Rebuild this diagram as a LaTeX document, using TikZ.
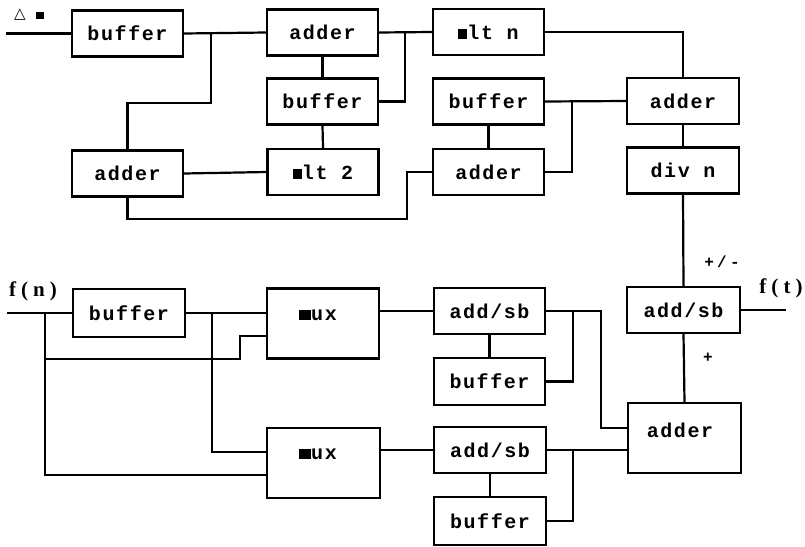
\documentclass[tikz,border=0pt]{standalone}
\usepackage{fontspec}
\newfontfamily\boxfont[LetterSpace=8]{Liberation Mono}
\newfontfamily\signfont[LetterSpace=20]{Liberation Mono}
\newfontfamily\sigfont[LetterSpace=24]{Liberation Serif}
\newfontfamily\symfont{DejaVu Sans}
\tikzset{
  wire/.style={line width=2.2pt, line cap=rect},
  blk/.style={draw, line width=2.2pt, minimum width=111pt, minimum height=46pt,
              inner sep=0pt, font=\boxfont\bfseries\fontsize{20}{22}\selectfont},
  tallblk/.style={blk, minimum height=70pt},
  lbl/.style={inner sep=0pt, font=\boxfont\bfseries\fontsize{20}{22}\selectfont},
  sig/.style={inner sep=0pt, font=\sigfont\bfseries\fontsize{21}{24}\selectfont},
  sgn/.style={inner sep=0pt, font=\signfont\bfseries\fontsize{16}{18}\selectfont}
}
\newcommand{\mblk}[1]{\rule[0pt]{#1}{10.5pt}}
\begin{document}
\begin{tikzpicture}[x=1pt, y=-1pt]
\useasboundingbox (0,0) rectangle (805,546);

% ---- averaging section (top) ----
\node[blk] (buf1) at (127.5,33.5) {buffer};
\node[blk] (addT) at (322.5,32.5) {adder};
\node[blk] (bufM) at (322.5,101.5) {buffer};
\node[blk] (mlt2) at (323,172) {\mblk{9pt}lt 2};
\node[blk] (addL) at (127.5,173.5) {adder};
\node[blk] (mltn) at (488.5,32) {\mblk{9pt}lt n};
\node[blk] (buf2) at (488.5,101.5) {buffer};
\node[blk] (add2) at (488.5,172) {adder};
\node[blk, minimum width=112pt] (add3) at (683,101) {adder};
\node[blk, minimum width=112pt] (divn) at (683,170.5) {div n};

% ---- input/output section (bottom) ----
\node[blk, minimum width=112pt, minimum height=48pt] (bufB) at (129,313) {buffer};
\node[tallblk, minimum width=112pt] (mux1) at (323,323.5) {};
\node[lbl] at (318,315) {\mblk{12pt}ux};
\node[tallblk, minimum width=113pt] (mux2) at (323.5,463) {};
\node[lbl] at (318,454) {\mblk{12pt}ux};
\node[blk] (as1) at (489.5,311) {add/sb};
\node[blk, minimum height=47pt] (bb1) at (489.5,381.5) {buffer};
\node[blk, minimum width=112pt] (as2) at (490,450) {add/sb};
\node[blk, minimum width=112pt, minimum height=48pt] (bb2) at (490,521) {buffer};
\node[blk, minimum width=113pt] (asR) at (683.5,310) {add/sb};
\node[tallblk, minimum width=113pt] (add4) at (684.5,438) {};
\node[lbl] at (680,430) {adder};

% ---- labels ----
\node[inner sep=0pt, font=\symfont\bfseries\fontsize{15}{16}\selectfont] (dm) at (29,15) {△\hspace{10pt}\rule{8pt}{7pt}};
\node[sig] (fn) at (33,291) {f(n)};
\node[sig] (ft) at (781,288) {f(t)};
\node[sgn] (pm) at (722,262) {+/-};
\node[sgn] (pl) at (708,358) {+};

% ---- free ends and bend points ----
\coordinate (inA) at (7,33.5);
\coordinate (inF) at (8,313);
\coordinate (outF) at (785,310);
\coordinate (j1) at (211,33.5);
\coordinate (j2) at (405,33);
\coordinate (j3) at (572,101.5);
\coordinate (k1) at (407,219);
\coordinate (j4) at (45,313);
\coordinate (j5) at (212,313);
\coordinate (k2) at (240,359);
\coordinate (j6) at (573,311);
\coordinate (k3) at (601,311);
\coordinate (j7) at (573,450);

% ---- top wiring ----
\draw[wire] (inA) -- (buf1.west);
\draw[wire] (buf1.east) -- (addT.west);
\draw[wire] (j1) -- ++(0,69.5) -| (addL.north);
\draw[wire] (addT.south) -- (bufM.north);
\draw[wire] (bufM.south) -- (mlt2.north);
\draw[wire] (addT.east) -- (mltn.west);
\draw[wire] (j2) |- (bufM.east);
\draw[wire] (addL.east) -- (mlt2.west);
\draw[wire] (addL.south) |- (k1) |- (add2.west);
\draw[wire] (buf2.south) -- (add2.north);
\draw[wire] (mltn.east) -| (add3.north);
\draw[wire] (buf2.east) -- (add3.west);
\draw[wire] (j3) |- (add2.east);
\draw[wire] (add3.south) -- (divn.north);
\draw[wire] (divn.south) -- (asR.north);
\draw[wire] (asR.east) -- (outF);
\draw[wire] (add4.north) -- (asR.south);

% ---- bottom wiring ----
\draw[wire] (inF) -- (bufB.west);
\draw[wire] (j4) |- (mux2.west |- 0,475);
\draw[wire] (j4 |- k2) -- (k2) |- (mux1.west |- 0,336);
\draw[wire] (bufB.east) -- (bufB.east -| mux1.west);
\draw[wire] (j5) |- (mux2.west |- 0,452);
\draw[wire] (mux1.east |- as1.west) -- (as1.west);
\draw[wire] (mux2.east |- as2.west) -- (as2.west);
\draw[wire] (as1.south) -- (bb1.north);
\draw[wire] (as2.south) -- (bb2.north);
\draw[wire] (as1.east) -- (k3) |- (add4.west |- 0,428);
\draw[wire] (j6) |- (bb1.east);
\draw[wire] (as2.east) -- (add4.west |- as2.east);
\draw[wire] (j7) |- (bb2.east);
\end{tikzpicture}
\end{document}
